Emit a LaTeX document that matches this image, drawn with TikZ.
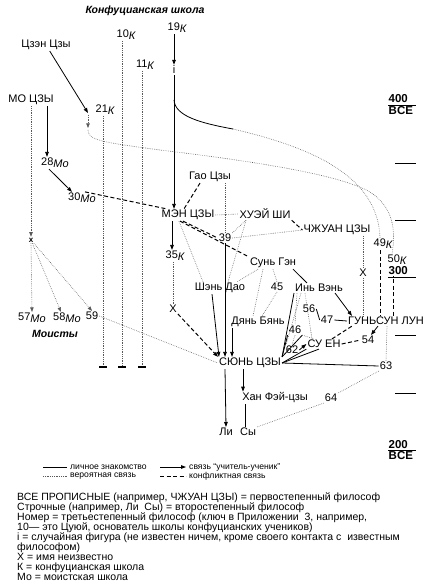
\documentclass[tikz,border=0pt]{standalone}
\usepackage{fontspec}
\setmainfont{Liberation Sans}
\usetikzlibrary{arrows.meta}
\newcommand{\subsc}[1]{\raisebox{-0.35ex}{\itshape #1}}
\begin{document}
\begin{tikzpicture}[x=1pt,y=-1pt,
  lbl/.style={font=\fontsize{11}{12}\selectfont, inner sep=1pt},
  ttl/.style={font=\fontsize{10.5}{12}\selectfont\bfseries\itshape, inner sep=1pt},
  tlab/.style={font=\fontsize{11.5}{12}\selectfont\bfseries, inner sep=0.5pt, anchor=west},
  pers/.style={line width=0.8pt},
  tch/.style={line width=0.8pt,-{Triangle[length=5pt,width=3.6pt]}},
  prob/.style={line width=0.6pt, black!65, dash pattern=on 0.6pt off 1.2pt},
  probarr/.style={prob,-{Triangle[length=4.5pt,width=3.4pt]}},
  confl/.style={line width=1pt, dash pattern=on 4pt off 2.5pt},
  conflarr/.style={confl,-{Triangle[length=5pt,width=3.6pt]}},
  tickline/.style={line width=0.9pt},
  endbar/.style={line width=1.6pt},
  leg/.style={font=\fontsize{8.6}{9}\selectfont, inner sep=0pt, anchor=west},
  legtxt/.style={font=\fontsize{10.5}{10.1}\selectfont, inner sep=0pt, anchor=north west, align=left}
]
\useasboundingbox (0,0) rectangle (435,585);

% ---------- labels ----------
\node[ttl] (title) at (145,11) {Конфуцианская школа};
\node[lbl] (k19) at (177,28) {19\subsc{К}};
\node[lbl] (i19) at (174,70) {i};
\node[lbl] (k10) at (126,35) {10\subsc{К}};
\node[lbl] (k11) at (145,65) {11\subsc{К}};
\node[lbl] (k21) at (105,110) {21\subsc{К}};
\node[lbl] (czc) at (46,45) {Цзэн Цзы};
\node[lbl] (mo) at (31,100) {МО ЦЗЫ};
\node[lbl] (m28) at (55,163) {28\subsc{Мо}};
\node[lbl] (m30) at (82,198) {30\subsc{Мо}};
\node[lbl,font=\fontsize{8}{9}\selectfont\bfseries] (xmo) at (31,240) {x};
\node[lbl] (m57) at (32,318) {57\subsc{Мо}};
\node[lbl] (m58) at (67,318) {58\subsc{Мо}};
\node[lbl] (m59) at (92,316) {59};
\node[ttl] (moisty) at (55,334) {Моисты};

\node[lbl] (men) at (188,215) {МЭН ЦЗЫ};
\node[lbl] (gao) at (210,177) {Гао Цзы};
\node[lbl] (huei) at (265,214) {ХУЭЙ ШИ};
\node[lbl] (n39) at (225,238) {39};
\node[lbl] (zhuang) at (337,230) {ЧЖУАН ЦЗЫ};
\node[lbl] (k35) at (175,256) {35\subsc{К}};
\node[lbl] (xk) at (173,309) {X};
\node[lbl] (shen) at (220,288) {Шэнь Дао};
\node[lbl] (sun) at (273,263) {Сунь Гэн};
\node[lbl] (n45) at (277,287) {45};
\node[lbl] (yin) at (319,288) {Инь Вэнь};
\node[lbl] (dian) at (258,322) {Дянь Бянь};
\node[lbl] (n56) at (309,309) {56};
\node[lbl] (n47) at (327,320) {47};
\node[lbl] (gong) at (386,321) {ГУНЬСУН ЛУН};
\node[lbl] (n46) at (295,330) {46};
\node[lbl] (suen) at (324,344) {СУ ЕН};
\node[lbl] (n62) at (292,350) {62};
\node[lbl] (n54) at (368,340) {54};
\node[lbl] (n63) at (386,366) {63};
\node[lbl] (xun) at (250,363) {СЮНЬ ЦЗЫ};
\node[lbl] (han) at (275,398) {Хан Фэй-цзы};
\node[lbl] (n64) at (331,398) {64};
\node[lbl] (li) at (226,432) {Ли};
\node[lbl] (sy) at (248,432) {Сы};
\node[lbl] (k49) at (383,244) {49\subsc{К}};
\node[lbl] (k50) at (397,260) {50\subsc{К}};
\node[lbl] (x2) at (363,273) {X};

% ---------- time scale ----------
\node[tlab] (t400) at (388,99) {400};
\node[tlab] (b400) at (388,111) {BCE};
\draw[tickline] (388,105) -- (416,105);
\draw[tickline] (395,163) -- (416,163);
\draw[tickline] (395,220) -- (416,220);
\draw[tickline] (395,335) -- (416,335);
\draw[tickline] (395,393) -- (416,393);
\node[tlab] (t200) at (388,445) {200};
\node[tlab] (b200) at (388,456) {BCE};
\draw[tickline] (388,450) -- (416,450);

% ---------- Confucian line ----------
\draw[tch] (k19.south -| i19) -- (i19.north);
\draw[tch] (i19.south) -- (i19 |- men.north);
\coordinate (c19) at (174,100);
\coordinate (cU) at (233,129);
\draw[pers] (c19) .. controls (175,116) and (200,123) .. (cU);
\draw[prob] (cU) .. controls (310,147) and (378,175) .. ([xshift=-3pt]k49.north);

\coordinate (c21) at (88,113);
\coordinate (c21b) at (88,130);
\draw[tch] (czc) -- (c21);
\draw[probarr] ([yshift=-2pt]c21) -- ([yshift=2pt]c21b);
\draw[prob] (c21b) .. controls (88,140) and (100,142) .. (160,150)
  .. controls (260,162) and (340,175) .. (370,192)
  .. controls (390,205) and (397,225) .. ([xshift=-5pt]k50.north);

\coordinate (b10) at (122,367);
\coordinate (b11) at (142,367);
\coordinate (b21) at (103,367);
\draw[prob] (b10 |- k10.south) -- (b10);
\draw[prob] (b11 |- k11.south) -- (b11);
\draw[prob] (b21 |- k21.south) -- (b21);
\draw[endbar] ([xshift=-4pt]b10) -- ([xshift=4pt]b10);
\draw[endbar] ([xshift=-4pt]b11) -- ([xshift=4pt]b11);
\draw[endbar] ([xshift=-4pt]b21) -- ([xshift=4pt]b21);

% ---------- Mohists ----------
\draw[probarr] (mo.south) -- (xmo.north);
\draw[tch] ([xshift=16pt]mo.south) -- ([xshift=-8pt]m28.north);
\draw[tch] ([xshift=-6pt]m28.south) -- ([xshift=-10pt]m30.north);
\draw[confl] ([xshift=3pt]m30.north) -- ([xshift=6pt]men.north west);
\draw[probarr] (xmo.south) -- (m57.north);
\draw[probarr] (xmo) -- ([xshift=-6pt]m58.north);
\draw[probarr] (xmo) -- (m59.north);
\draw[prob] (m59.east) -- (xun.west);

% ---------- Meng Zi group ----------
\draw[confl] ([xshift=-10pt]gao.south) -- ([xshift=-4pt]men.north);
\draw[prob] ([xshift=15pt]gao.south) -- (n39.north);
\draw[prob] (men.east) -- (huei.west);
\draw[confl] ([xshift=-5pt]men.south) -- (n39.west);
\draw[confl] ([xshift=-8pt]men.south) -- (sun.north west);
\draw[prob] (n39.north east) -- ([xshift=-19pt]huei.south);
\draw[prob] (n39.east) -- (zhuang.west);
\draw[tch] (n39.south) -- (n39.south |- xun.north);
\draw[confl] (huei.south east) -- (zhuang.west);
\draw[prob] ([xshift=-19pt]huei.south) -- ([xshift=8pt]shen.north);
\draw[tch] ([xshift=-16pt]men.south) -- ([xshift=-3pt]k35.north);
\draw[prob] ([xshift=-2pt]k35.south) -- (xk.north);
\draw[conflarr] (xk.south east) -- ([xshift=-32pt]xun.north);
\draw[prob] ([xshift=-9pt]men.south) -- ([xshift=-17pt]shen.north);
\draw[tch] ([xshift=-8pt]shen.south) -- ([xshift=-31pt]xun.north);

% ---------- Sun Geng / Yin Wen ----------
\draw[prob] ([xshift=-15pt]sun.south) -- ([xshift=17pt]shen.north);
\draw[prob] ([xshift=-10pt]sun.south) -- ([xshift=-5pt]dian.north);
\draw[prob] (sun.south) -- (n45.north);
\draw[prob] (n45.south) -- ([xshift=4pt]dian.north);
\draw[pers] ([xshift=20pt]sun.south) -- ([xshift=-12pt]yin.north);
\draw[tch] ([xshift=-26pt]dian.south) -- ([xshift=-18pt]xun.north);
\draw[tch] ([xshift=16pt]yin.south) -- ([xshift=-34pt]gong.north);
\draw[pers] (n56.east) -- (n47.west);
\draw[pers] (n47.east) -- (gong.west);
\draw[prob] ([xshift=-22pt]yin.south) -- (n46.north);
\draw[prob] ([xshift=-18pt]yin.south) -- ([xshift=-6pt]n62.north);
\draw[prob] ([xshift=-14pt]yin.south) -- ([xshift=-12pt]suen.north);
\draw[prob] (n46.south) -- (n62.north);
\draw[prob] (n46.south east) -- ([xshift=-10pt]suen.north);
\draw[tch] (n62.east) -- (suen.west);
\draw[pers] (xun.north east) -- ([xshift=-25pt]yin.south);
\draw[pers] (xun.north east) -- (n46.south west);
\draw[pers] (xun.north east) -- (n46.south east);
\draw[pers] (xun.east) -- (suen.south west);
\draw[pers] (xun.east) -- ([xshift=-5pt]suen.south);
\draw[confl] ([xshift=8pt]suen.north) -- ([xshift=-34pt]gong.south);
\draw[confl] (suen.east) -- (n54.west);
\draw[tch] ([xshift=-8pt]gong.south) -- ([xshift=3pt]n54.north);
\draw[prob] ([xshift=1pt]gong.south) -- (n63.north);
\draw[pers] (xun.east) -- (n63.west);
\draw[prob] (n63.south west) -- (n64.north east);
\draw[prob] (n64.south west) -- (sy.north east);
\draw[tch] ([xshift=-25pt]xun.south) -- (li.north);
\draw[tch] ([xshift=-7pt]xun.south) -- ([xshift=-32pt]han.north);
\draw[pers] ([xshift=-30pt]han.south) -- ([xshift=-3pt]sy.north);

% ---------- right column ----------
\draw[prob] ([xshift=26pt]zhuang.south) -- (x2.north);
\draw[prob] (x2.south) -- (x2 |- gong.north);
\draw[confl] ([xshift=-3pt]k49.south) -- ([xshift=-6pt]gong.north);
\draw[confl] ([xshift=-4pt]k50.south) -- ([xshift=7pt]gong.north);
\node[tlab,fill=white] (t300) at (388,271) {300};
\draw[tickline] (388,277) -- (416,277);

% ---------- legend ----------
\draw[pers] (43,467) -- (67,467);
\node[leg] (lg1) at (70,467) {личное знакомство};
\draw[tch] (160,467) -- (186,467);
\node[leg] (lg2) at (189,467) {связь “учитель-ученик”};
\draw[prob] (43,476) -- (67,476);
\node[leg] (lg3) at (70,476) {вероятная связь};
\draw[confl] (160,476) -- (186,476);
\node[leg] (lg4) at (189,476) {конфликтная связь};
\node[legtxt] (legend) at (17,492) {ВСЕ ПРОПИСНЫЕ (например, ЧЖУАН ЦЗЫ) = первостепенный философ\\
Строчные (например, Ли\ \ Сы) = второстепенный философ\\
Номер = третьестепенный философ (ключ в Приложении\ \ 3, например,\\
10— это Цуюй, основатель школы конфуцианских учеников)\\
i = случайная фигура (не известен ничем, кроме своего контакта с\ \ известным\\
философом)\\
X = имя неизвестно\\
К = конфуцианская школа\\
Мо = моистская школа};
\end{tikzpicture}
\end{document}
